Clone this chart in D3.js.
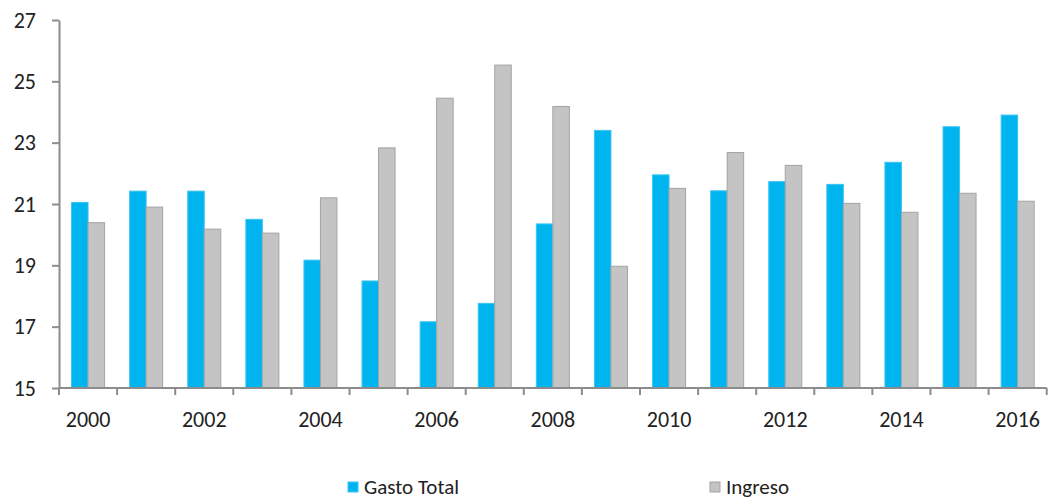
<!DOCTYPE html>
<html lang="es">
<head>
<meta charset="UTF-8">
<script src="https://cdn.jsdelivr.net/npm/d3@7"></script>
<style>
    body { margin: 0; background: #fff; }
    svg text { font-family: Carlito, "Open Sans", "Noto Sans", sans-serif; fill: #222; }
    .axis path, .axis line { stroke: #8c8c8c; stroke-width: 2px; }
</style>
</head>
<body>
<svg id="chart" width="1049" height="500"></svg>
<script>
    // data
    const years = ["2000","2001","2002","2003","2004","2005","2006","2007","2008",
                   "2009","2010","2011","2012","2013","2014","2015","2016"];
    const gastoTotal = [21.05, 21.42, 21.42, 20.5, 19.17, 18.49, 17.16, 17.76, 20.35,
                        23.4, 21.95, 21.43, 21.73, 21.64, 22.36, 23.52, 23.9];
    const ingreso = [20.39, 20.9, 20.18, 20.05, 21.2, 22.83, 24.45, 25.53, 24.18,
                     18.97, 21.51, 22.68, 22.26, 21.02, 20.73, 21.35, 21.09];
    const yTicks = [15, 17, 19, 21, 23, 25, 27];
    const xLabels = ["2000","2002","2004","2006","2008","2010","2012","2014","2016"];
    const series = [
        { key: "Gasto Total", values: gastoTotal, fill: "#00b5ef", stroke: "#3cc4f2" },
        { key: "Ingreso", values: ingreso, fill: "#c4c4c4", stroke: "#a3a3a3" }
    ];

    const svg = d3.select("#chart");
    const plotLeft = 59, plotRight = 1046.7, plotTop = 20, plotBottom = 388;

    const x = d3.scaleBand().domain(years).range([plotLeft, plotRight]).padding(0);
    const xSub = d3.scaleBand().domain(series.map(s => s.key))
        .range([0, x.bandwidth()]).paddingInner(0).paddingOuter(0.76);
    const y = d3.scaleLinear().domain([15, 27]).range([plotBottom, plotTop]);

    // bars
    series.forEach(s => {
        svg.append("g").selectAll("rect")
            .data(years)
            .join("rect")
            .attr("x", (d) => x(d) + xSub(s.key))
            .attr("y", (d, i) => y(s.values[i]))
            .attr("width", xSub.bandwidth())
            .attr("height", (d, i) => y(15) - y(s.values[i]))
            .attr("fill", s.fill)
            .attr("stroke", s.stroke)
            .attr("stroke-width", 1);
    });

    // y axis
    const yAxis = svg.append("g")
        .attr("class", "axis")
        .attr("transform", `translate(${plotLeft},0)`)
        .call(d3.axisLeft(y).tickValues(yTicks).tickSize(7).tickSizeOuter(0).tickPadding(16));
    yAxis.selectAll("text").style("font-size", "22px");

    // x axis: ticks at category boundaries, labels on every other year
    const xAxis = svg.append("g").attr("class", "axis");
    xAxis.append("line")
        .attr("x1", plotLeft).attr("x2", plotRight)
        .attr("y1", plotBottom).attr("y2", plotBottom);
    xAxis.selectAll(".tick")
        .data(years.concat(["end"]))
        .join("line")
        .attr("class", "tick")
        .attr("x1", d => d === "end" ? plotRight : x(d))
        .attr("x2", d => d === "end" ? plotRight : x(d))
        .attr("y1", plotBottom).attr("y2", plotBottom + 7);
    xAxis.selectAll("text")
        .data(xLabels)
        .join("text")
        .attr("x", d => x(d) + x.bandwidth() / 2)
        .attr("y", plotBottom + 39)
        .attr("text-anchor", "middle")
        .style("font-size", "22px")
        .text(d => d);

    // legend
    const legendX = [348, 710];
    const legend = svg.append("g").selectAll("g")
        .data(series)
        .join("g")
        .attr("transform", (d, i) => `translate(${legendX[i]},482)`);
    legend.append("rect")
        .attr("width", 10).attr("height", 10)
        .attr("fill", d => d.fill)
        .attr("stroke", d => d.stroke);
    legend.append("text")
        .attr("x", 16).attr("y", 12)
        .style("font-size", "21px")
        .text(d => d.key);
</script>
</body>
</html>
